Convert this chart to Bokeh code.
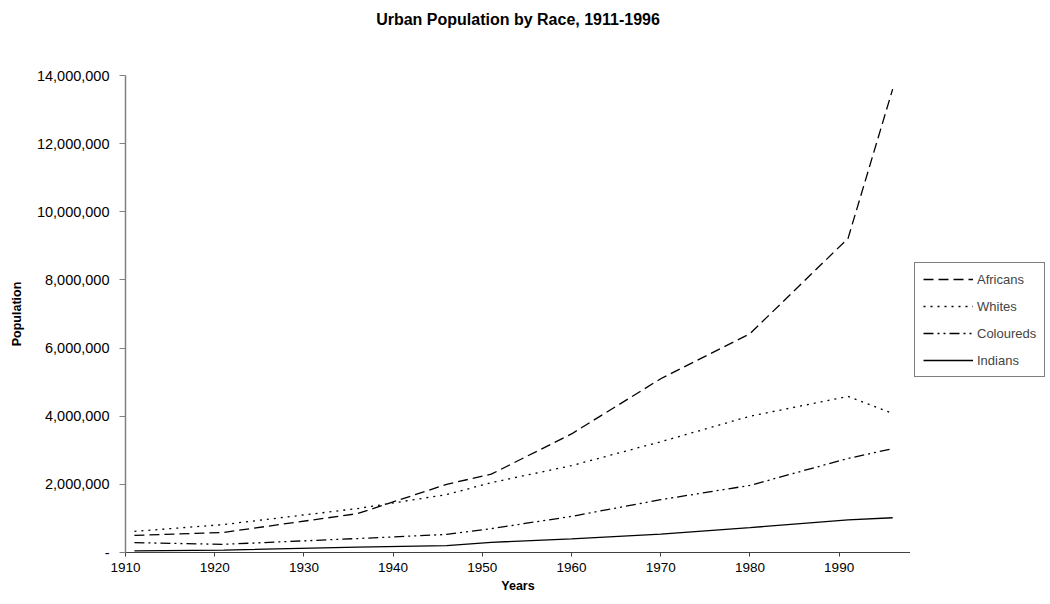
from bokeh.plotting import figure
from bokeh.models import Range1d, FixedTicker, CustomJSTickFormatter, Legend, LegendItem, LinearAxis
from bokeh.layouts import row
from bokeh.embed import file_html
from bokeh.resources import INLINE

title_text = "Urban Population by Race, 1911-1996"
years = [1911, 1921, 1936, 1946, 1951, 1960, 1970, 1980, 1991, 1996]
africans = [500000, 590000, 1140000, 2000000, 2300000, 3480000, 5100000, 6420000, 9220000, 13600000]
whites = [620000, 820000, 1290000, 1700000, 2050000, 2550000, 3250000, 4000000, 4580000, 4080000]
coloureds = [290000, 240000, 410000, 530000, 700000, 1060000, 1550000, 1970000, 2760000, 3050000]
indians = [50000, 70000, 160000, 200000, 300000, 400000, 540000, 730000, 960000, 1020000]
series_names = ["Africans", "Whites", "Coloureds", "Indians"]

x_ticks = [1910, 1920, 1930, 1940, 1950, 1960, 1970, 1980, 1990]
y_ticks = [0, 2000000, 4000000, 6000000, 8000000, 10000000, 12000000, 14000000]

FONT = "Liberation Sans"
dashes = ["10 5", "2 5", "10 4 2 4 2 4", "solid"]
values = [africans, whites, coloureds, indians]

p = figure(width=910, height=600, output_backend="svg", toolbar_location=None,
           x_range=Range1d(1910, 1998), y_range=Range1d(0, 14000000),
           min_border_left=125, min_border_right=0, min_border_top=75, min_border_bottom=48)

p.outline_line_color = None
p.xgrid.visible = False
p.ygrid.visible = False
p.background_fill_color = "white"
p.border_fill_color = "white"

xax = p.below[0]
yax = p.left[0]

# title drawn as the label of an empty axis above the frame
top_axis = LinearAxis(ticker=FixedTicker(ticks=[]), axis_label=title_text)
top_axis.axis_line_color = None
top_axis.major_tick_line_color = None
top_axis.minor_tick_line_color = None
top_axis.major_label_text_font_size = "0px"
top_axis.axis_label_text_font = FONT
top_axis.axis_label_text_font_size = "16px"
top_axis.axis_label_text_font_style = "bold"
top_axis.axis_label_text_color = "black"
top_axis.axis_label_standoff = 48
p.add_layout(top_axis, "above")

xax.ticker = FixedTicker(ticks=x_ticks)
yax.ticker = FixedTicker(ticks=y_ticks)
yax.formatter = CustomJSTickFormatter(code="""
    if (tick == 0) { return '-'; }
    return Math.round(tick).toString().replace(/\\B(?=(\\d{3})+(?!\\d))/g, ',');
""")

for ax in (xax, yax):
    ax.major_label_text_font = FONT
    ax.major_label_text_color = "black"
    ax.axis_label_text_font = FONT
    ax.axis_label_text_font_size = "12.5px"
    ax.axis_label_text_font_style = "bold"
    ax.axis_label_text_color = "black"
    ax.minor_tick_line_color = None
    ax.major_tick_in = 0

xax.major_label_text_font_size = "13.5px"
yax.major_label_text_font_size = "14.5px"
xax.axis_label = "Years"
yax.axis_label = "Population"
xax.axis_line_color = "#404040"
xax.major_tick_line_color = "#404040"
xax.major_tick_out = 4
yax.major_tick_out = 6
yax.axis_line_color = "#808080"
yax.axis_line_width = 1.5
yax.major_tick_line_color = "#808080"
xax.major_label_standoff = 6
yax.major_label_standoff = 10
xax.axis_label_standoff = 4
yax.axis_label_standoff = 10

for vals, dash in zip(values, dashes):
    p.line(years, vals, line_color="black", line_width=1.3, line_dash=dash)

# legend panel to the right of the plot area (its own lines fall outside its ranges)
lg = figure(width=138, height=600, output_backend="svg", toolbar_location=None,
            x_range=Range1d(0, 1), y_range=Range1d(0, 1),
            x_axis_location=None, y_axis_location=None,
            min_border_left=0, min_border_right=0, min_border_top=0, min_border_bottom=0)
lg.grid.visible = False
lg.outline_line_color = None
lg.background_fill_color = "white"
lg.border_fill_color = "white"

items = []
for name, vals, dash in zip(series_names, values, dashes):
    r = lg.line(years, vals, line_color="black", line_width=1.3, line_dash=dash)
    items.append(LegendItem(label=name, renderers=[r]))

legend = Legend(items=items, location=(4, 175))
legend.label_text_font = FONT
legend.label_text_font_size = "13px"
legend.label_standoff = 4
legend.glyph_width = 50
legend.glyph_height = 16
legend.label_height = 16
legend.spacing = 11
legend.padding = 8
legend.margin = 0
legend.border_line_color = "black"
legend.border_line_width = 1
legend.background_fill_color = "white"
lg.add_layout(legend, "center")

layout = row(p, lg, spacing=0)
open("out.html", "w").write(file_html(layout, INLINE))
